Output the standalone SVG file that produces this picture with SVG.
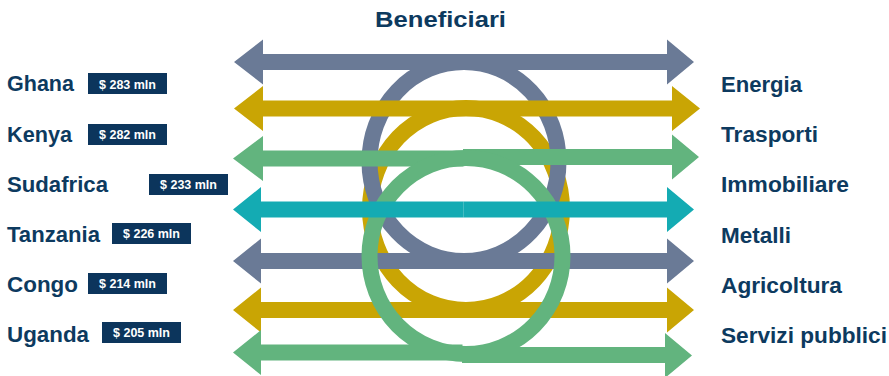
<svg xmlns="http://www.w3.org/2000/svg" width="889" height="376" viewBox="0 0 889 376">
  <style>
    .gray { fill: #6a7a96; }
    .gold { fill: #c9a504; }
    .green { fill: #62b47e; }
    .teal { fill: #14abb3; }
    .ring { fill: none; stroke-width: 16; }
    .lbl { font-family: "Liberation Sans", Arial, sans-serif; font-weight: bold; font-size: 22px; fill: #0d3a5f; }
    .box { fill: #0c355c; }
    .amt { font-family: "Liberation Sans", Arial, sans-serif; font-weight: bold; font-size: 12.5px; fill: #ffffff; text-anchor: middle; }
  </style>
  <rect width="889" height="376" fill="#ffffff"/>

  <g id="connectors">
    <!-- gold ring -->
    <ellipse class="ring" stroke="#c9a504" cx="466" cy="209" rx="96" ry="101"/>
    <!-- gray ring -->
    <ellipse class="ring" stroke="#6a7a96" cx="464" cy="161.5" rx="94.5" ry="99.5"/>
    <!-- arrow 1 gray -->
    <polygon class="gray" points="234,62 263,39.5 263,54 667,54 667,39.5 694,62 667,84.5 667,70 263,70 263,84.5"/>
    <!-- arrow 2 gold -->
    <polygon class="gold" points="234,108.5 263,86 263,100.5 672,100.5 672,86 700,108.5 672,131 672,116.5 263,116.5 263,131"/>
    <!-- arrow 3 green (two halves) -->
    <polygon class="green" points="233,158.5 263,136 263,150.5 463.5,150.5 463.5,166.5 263,166.5 263,181"/>
    <polygon class="green" points="463,149 672,149 672,134.5 699,157 672,179.5 672,165 463,165"/>
    <!-- arrow 5 gray -->
    <polygon class="gray" points="233,261 261,238.5 261,253 667,253 667,238.5 694,261 667,283.5 667,269 261,269 261,283.5"/>
    <!-- arrow 6 gold -->
    <polygon class="gold" points="233,310 261,287.5 261,302 667,302 667,287.5 694,310 667,332.5 667,318 261,318 261,332.5"/>
    <!-- green ring -->
    <ellipse class="ring" stroke="#62b47e" cx="466" cy="256" rx="96.5" ry="98"/>
    <!-- arrow 4 teal -->
    <polygon class="teal" points="233,209.5 261,187 261,201.5 463.3,201.5 463.3,217.5 261,217.5 261,232"/>
    <polygon class="teal" points="463.3,201.5 667,201.5 667,187 694,209.5 667,232 667,217.5 463.3,217.5"/>
    <!-- arrow 7 green (two halves) -->
    <polygon class="green" points="233,352.5 261,330 261,344.5 462.5,344.5 462.5,360.5 261,360.5 261,375"/>
    <polygon class="green" points="462,347 665,347 665,333 692,355.5 665,378 665,363 462,363"/>
  </g>

  <g id="title">
    <text class="lbl" x="375" y="26.5" textLength="131" lengthAdjust="spacingAndGlyphs">Beneficiari</text>
  </g>

  <g id="ghana">
    <text class="lbl" x="7" y="91" textLength="67" lengthAdjust="spacingAndGlyphs">Ghana</text>
    <rect class="box" x="88" y="73" width="79" height="21"/>
    <text class="amt" x="127.5" y="88.5">$ 283 mln</text>
  </g>
  <g id="kenya">
    <text class="lbl" x="7" y="141.5" textLength="65" lengthAdjust="spacingAndGlyphs">Kenya</text>
    <rect class="box" x="88" y="124" width="79" height="21"/>
    <text class="amt" x="127.5" y="139">$ 282 mln</text>
  </g>
  <g id="sudafrica">
    <text class="lbl" x="7" y="192" textLength="101" lengthAdjust="spacingAndGlyphs">Sudafrica</text>
    <rect class="box" x="149" y="174" width="79" height="21"/>
    <text class="amt" x="188.5" y="189">$ 233 mln</text>
  </g>
  <g id="tanzania">
    <text class="lbl" x="7" y="242.3" textLength="93" lengthAdjust="spacingAndGlyphs">Tanzania</text>
    <rect class="box" x="112" y="223" width="79" height="21"/>
    <text class="amt" x="151.5" y="238">$ 226 mln</text>
  </g>
  <g id="congo">
    <text class="lbl" x="7" y="292" textLength="71" lengthAdjust="spacingAndGlyphs">Congo</text>
    <rect class="box" x="88" y="273" width="79" height="21"/>
    <text class="amt" x="127.5" y="288">$ 214 mln</text>
  </g>
  <g id="uganda">
    <text class="lbl" x="7" y="342.3" textLength="82" lengthAdjust="spacingAndGlyphs">Uganda</text>
    <rect class="box" x="102" y="322" width="79" height="21"/>
    <text class="amt" x="141.5" y="337">$ 205 mln</text>
  </g>

  <g id="energia">
    <text class="lbl" x="721" y="91.7" textLength="81" lengthAdjust="spacingAndGlyphs">Energia</text>
  </g>
  <g id="trasporti">
    <text class="lbl" x="721" y="141.7" textLength="97" lengthAdjust="spacingAndGlyphs">Trasporti</text>
  </g>
  <g id="immobiliare">
    <text class="lbl" x="721" y="191.7" textLength="128" lengthAdjust="spacingAndGlyphs">Immobiliare</text>
  </g>
  <g id="metalli">
    <text class="lbl" x="721" y="242.7" textLength="70" lengthAdjust="spacingAndGlyphs">Metalli</text>
  </g>
  <g id="agricoltura">
    <text class="lbl" x="721" y="292.7" textLength="121" lengthAdjust="spacingAndGlyphs">Agricoltura</text>
  </g>
  <g id="servizi-pubblici">
    <text class="lbl" x="721" y="342.7" textLength="166" lengthAdjust="spacingAndGlyphs">Servizi pubblici</text>
  </g>
</svg>
